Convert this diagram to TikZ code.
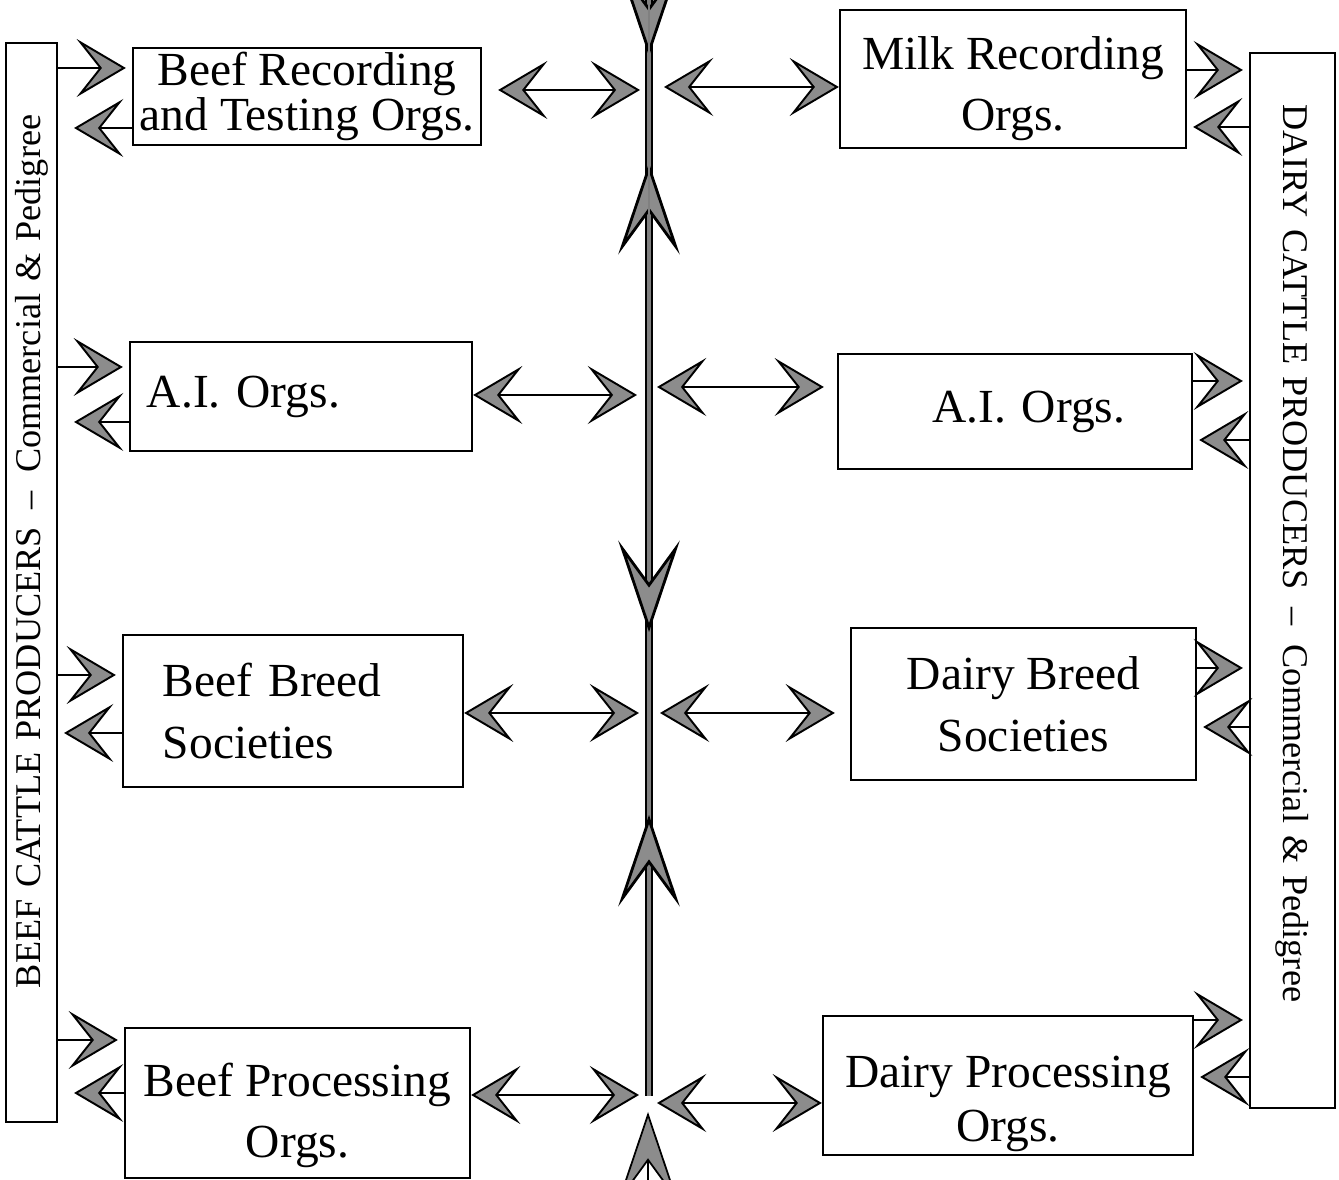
\documentclass[tikz,border=0pt]{standalone}
\usepackage{fontspec}
\setmainfont{Liberation Serif}
\usetikzlibrary{arrows.meta}

\tikzset{
  wing/.tip={Stealth[length=14pt, width=16.5pt, inset=6.5pt, fill=black!45]},
  bigwing/.tip={Stealth[length=26pt, width=17.5pt, inset=12pt, color=black, fill=black!45]},
  org/.style={draw, line width=0.6pt, inner sep=0pt, align=center, font=\fontsize{13.5}{17.5}\selectfont},
  bar/.style={draw, line width=0.6pt, inner ysep=0pt, font=\fontsize{10.3}{12}\selectfont},
  link/.style={line width=0.55pt, wing-wing},
  feed/.style={line width=0.55pt, -wing, shorten >=0.06cm},
  spine/.style={line width=0.55pt, double=black!50, double distance=1.2pt},
  spinehead/.style={draw=black!50, line width=0.8pt, -bigwing},
}

\begin{document}
\begin{tikzpicture}[x=0.01cm, y=-0.01cm]
	\useasboundingbox (0,0) rectangle (1339,1180);
      % producers
      \node (beef) at (31.5,582.5) [bar, rotate=90, minimum width=10.79cm, minimum height=0.51cm, inner xsep=0.72cm, text width=9.35cm, align=right] {BEEF CATTLE PRODUCERS\enspace--\enspace Commercial \& Pedigree};
      \node (dairy) at (1292.5,580.5) [bar, rotate=-90, minimum width=10.55cm, minimum height=0.85cm, inner xsep=0.52cm, text width=9.51cm, align=left] {DAIRY CATTLE PRODUCERS\enspace--\enspace Commercial \& Pedigree};
      % beef side
      \node (rec) at (307,96.5) [org, minimum width=3.48cm, minimum height=0.97cm] {Beef Recording\\[-4.5pt]and Testing Orgs.};
      \node (aiL) at (301,396.5) [org, minimum width=3.42cm, minimum height=1.09cm, text width=3.08cm, align=left] {A.I. Orgs.};
      \node (breedL) at (293,711) [org, minimum width=3.40cm, minimum height=1.52cm, text width=2.60cm, align=left] {Beef Breed\\Societies};
      \node (procL) at (297.5,1103) [org, minimum width=3.45cm, minimum height=1.50cm] {\rule{0pt}{16.6pt}Beef Processing\\Orgs.};
      % dairy side
      \node (milk) at (1013,79) [org, minimum width=3.46cm, minimum height=1.38cm] {\rule{0pt}{14.9pt}Milk Recording\\Orgs.};
      \node (aiR) at (1015,411.5) [org, minimum width=3.54cm, minimum height=1.15cm, inner xsep=0.67cm, text width=2.2cm, align=right] {A.I. Orgs.};
      \node (breedR) at (1023.5,704) [org, minimum width=3.45cm, minimum height=1.52cm] {Dairy Breed\\Societies};
      \node (procR) at (1008,1085.5) [org, minimum width=3.70cm, minimum height=1.39cm] {\rule{0pt}{19.4pt}Dairy Processing\\[-2pt]Orgs.};
      % central spine
      \coordinate (hub) at (649,0);
      \coordinate (top) at (649,-120);
      \coordinate (end) at (649,1096);
      \coordinate (foot) at (648,1290);
      \coordinate (tipA) at (649,56);
      \coordinate (tipB) at (649,163);
      \coordinate (tipC) at (649,632);
      \coordinate (tipD) at (649,815);
      \coordinate (tipE) at (648,1112);
      \draw[spine] (top) -- (end);
      \draw[spinehead] (top) -- (tipA);
      \draw[spinehead] (end) -- (tipB);
      \draw[spinehead] (top) -- (tipC);
      \draw[spinehead] (end) -- (tipD);
      \draw[line width=0.5pt, -bigwing] (foot) -- (tipE);
      % links to the spine
      \draw[link, shorten <=0.16cm, shorten >=0.09cm] (rec.east |- 0,90) -- (hub |- 0,90);
      \draw[link, shorten >=0.12cm] (aiL.east |- 0,395) -- (hub |- 0,395);
      \draw[link, shorten >=0.1cm] (breedL.east |- 0,713) -- (hub |- 0,713);
      \draw[link, shorten >=0.1cm] (procL.east |- 0,1095) -- (hub |- 0,1095);
      \draw[link, shorten <=0.15cm] (hub |- 0,87) -- (milk.west |- 0,87);
      \draw[link, shorten <=0.08cm, shorten >=0.13cm] (hub |- 0,387) -- (aiR.west |- 0,387);
      \draw[link, shorten <=0.11cm, shorten >=0.15cm] (hub |- 0,713) -- (breedR.west |- 0,713);
      \draw[link, shorten <=0.08cm] (hub |- 0,1103) -- (procR.west |- 0,1103);
      % producers to orgs and back
      \draw[feed] (beef.south |- 0,68) -- (rec.west |- 0,68);
      \draw[feed, shorten >=0.16cm] (rec.west |- 0,128) -- (beef.south |- 0,128);
      \draw[feed] (beef.south |- 0,367) -- (aiL.west |- 0,367);
      \draw[feed, shorten >=0.16cm] (aiL.west |- 0,422) -- (beef.south |- 0,422);
      \draw[feed] (beef.south |- 0,675) -- (breedL.west |- 0,675);
      \draw[feed] (breedL.west |- 0,733) -- (beef.south |- 0,733);
      \draw[feed] (beef.south |- 0,1040) -- (procL.west |- 0,1040);
      \draw[feed, shorten >=0.16cm] (procL.west |- 0,1093) -- (beef.south |- 0,1093);
      \draw[feed] (milk.east |- 0,70) -- (dairy.south |- 0,70);
      \draw[feed] (dairy.south |- 0,127) -- (milk.east |- 0,127);
      \draw[feed] (aiR.east |- 0,381) -- (dairy.south |- 0,381);
      \draw[feed] (dairy.south |- 0,440) -- (aiR.east |- 0,440);
      \draw[feed] (breedR.east |- 0,668) -- (dairy.south |- 0,668);
      \draw[feed] (dairy.south |- 0,727) -- (breedR.east |- 0,727);
      \draw[feed] (procR.east |- 0,1020) -- (dairy.south |- 0,1020);
      \draw[feed] (dairy.south |- 0,1077) -- (procR.east |- 0,1077);
\end{tikzpicture}
\end{document}
